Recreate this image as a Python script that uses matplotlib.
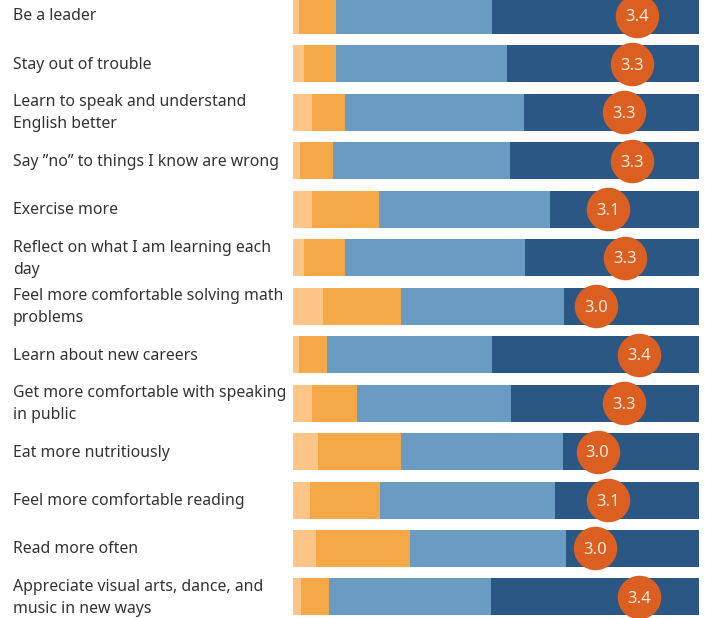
import matplotlib
matplotlib.use("Agg")
import matplotlib.pyplot as plt

categories = [
    "Be a leader",
    "Stay out of trouble",
    "Learn to speak and understand\nEnglish better",
    "Say \u201dno\u201d to things I know are wrong",
    "Exercise more",
    "Reflect on what I am learning each\nday",
    "Feel more comfortable solving math\nproblems",
    "Learn about new careers",
    "Get more comfortable with speaking\nin public",
    "Eat more nutritiously",
    "Feel more comfortable reading",
    "Read more often",
    "Appreciate visual arts, dance, and\nmusic in new ways",
]

# percent of responses per level (1 = lowest ... 4 = highest)
level1 = [1.5, 2.7, 4.7, 1.7, 4.7, 2.7, 7.4, 1.5, 4.7, 6.2, 4.2, 5.7, 2.0]
level2 = [9.1, 7.9, 8.1, 8.1, 16.5, 10.1, 19.3, 6.9, 11.1, 20.5, 17.3, 23.2, 6.9]
level3 = [38.5, 42.0, 44.0, 43.7, 42.2, 44.4, 40.0, 40.7, 38.0, 39.8, 43.0, 38.3, 39.8]
level4 = [50.9, 47.4, 43.2, 46.5, 36.6, 42.8, 33.3, 50.9, 46.2, 33.5, 35.5, 32.8, 51.3]

means = [3.39, 3.34, 3.26, 3.34, 3.10, 3.27, 2.99, 3.41, 3.26, 3.00, 3.10, 2.98, 3.41]

colors = ["#FEC488", "#F4A847", "#6A9BC3", "#2B5784"]
circle_color = "#DB5F20"

W, H = 705, 618
fig = plt.figure(figsize=(W / 100, H / 100), dpi=100)

pitch = 48.45
c0 = 15.5
y_top = -c0 / pitch
y_bot = (H - c0) / pitch

ax = fig.add_axes([293 / W, 0, 406 / W, 1])
ax.set_xlim(0, 100)
ax.set_ylim(y_bot, y_top)
ax.axis("off")

ys = list(range(len(categories)))
left = [0.0] * len(categories)
for vals, col in zip([level1, level2, level3, level4], colors):
    ax.barh(ys, vals, left=left, height=37 / pitch, color=col, linewidth=0)
    left = [l + v for l, v in zip(left, vals)]

xs = [m * 25 for m in means]
ax.scatter(xs, ys, s=(43.5 * 0.72) ** 2, color=circle_color, zorder=5, clip_on=False, linewidths=0)
for x, y, m in zip(xs, ys, means):
    ax.text(x, y + 0.035, f"{m:.1f}", ha="center", va="center", color="#FBE9DD",
            fontsize=12, family="Noto Sans", zorder=6)

tax = fig.add_axes([0, 0, 293 / W, 1])
tax.set_xlim(0, 293)
tax.set_ylim(y_bot, y_top)
tax.axis("off")
for y, lab in zip(ys, categories):
    tax.text(13, y + 0.02, lab, ha="left", va="center", fontsize=11.4, family="Noto Sans",
             color="#333333", linespacing=1.5)

fig.savefig("out.png", dpi=100)
